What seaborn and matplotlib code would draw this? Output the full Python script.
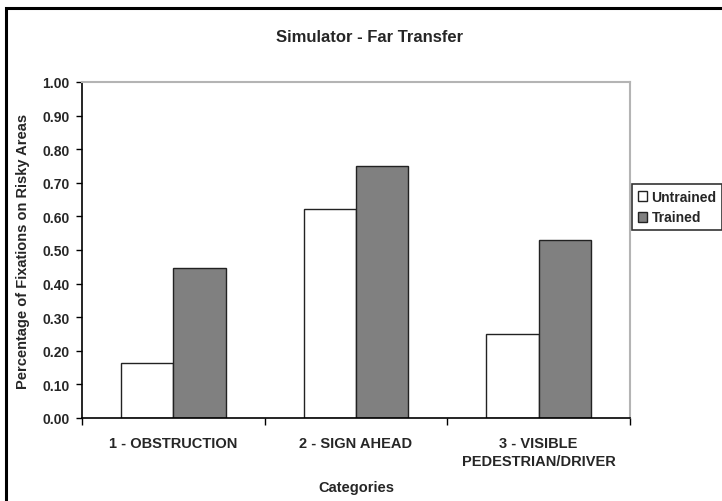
import matplotlib
matplotlib.use("Agg")
import matplotlib.pyplot as plt
from matplotlib.patches import Rectangle
from matplotlib.ticker import FixedLocator, MultipleLocator
import numpy as np
import pandas as pd
import seaborn as sns

categories = ["1 - OBSTRUCTION", "2 - SIGN AHEAD", "3 - VISIBLE\nPEDESTRIAN/DRIVER"]
groups = ["Untrained", "Trained"]
untrained = [0.165, 0.622, 0.250]
trained = [0.446, 0.750, 0.530]

df = pd.DataFrame({
    "Category": categories * 2,
    "Group": [groups[0]] * 3 + [groups[1]] * 3,
    "Value": untrained + trained,
})

sns.set_theme(style="white")
plt.rcParams["font.family"] = ["Liberation Sans", "DejaVu Sans"]
plt.rcParams["font.weight"] = "bold"

W, H = 722, 502
fig = plt.figure(figsize=(W / 100, H / 100), dpi=100)
fig.patch.set_facecolor("white")
ax = fig.add_axes([82 / W, 1 - 419 / H, (630 - 82) / W, (419 - 83) / H])

sns.barplot(
    data=df, x="Category", y="Value", hue="Group", hue_order=groups,
    order=categories, palette=["white", "#808080"], width=2 / 3.5,
    edgecolor="#222222", linewidth=1.0, saturation=1, gap=0, ax=ax,
)

ax.set_xlim(-0.5, 2.5)
ax.set_ylim(0, 1.0)
ax.yaxis.set_major_locator(MultipleLocator(0.1))
ax.yaxis.set_major_formatter(plt.FuncFormatter(lambda v, p: f"{v:.2f}"))
ax.tick_params(axis="y", which="major", direction="out", length=4, width=1,
               color="black", pad=5, labelsize=10, left=True)
for lbl in ax.get_yticklabels():
    lbl.set_fontweight("bold")

# category labels centred, separators as minor ticks at group boundaries
ax.xaxis.set_minor_locator(FixedLocator([-0.5, 0.5, 1.5, 2.5]))
ax.tick_params(axis="x", which="major", length=0, pad=13, labelsize=10.5)
ax.tick_params(axis="x", which="minor", direction="out", length=5, width=1,
               color="black", bottom=True)
for lbl in ax.get_xticklabels():
    lbl.set_fontweight("bold")
    lbl.set_linespacing(1.35)

ax.set_xlabel("Categories", fontsize=10.5, fontweight="bold", labelpad=9)
ax.set_ylabel("Percentage of Fixations on Risky Areas", fontsize=10.5,
              fontweight="bold", labelpad=9)

for side in ["left", "bottom"]:
    ax.spines[side].set_color("black")
    ax.spines[side].set_linewidth(1.2)
for side in ["top", "right"]:
    ax.spines[side].set_visible(True)
    ax.spines[side].set_color("#b4b4b4")
    ax.spines[side].set_linewidth(1.5)

fig.text(370 / W, 1 - 38 / H, "Simulator - Far Transfer", ha="center",
         va="center", fontsize=12, fontweight="bold")

leg = ax.legend(
    loc="upper left", bbox_to_anchor=(632 / W, 1 - 185 / H),
    bbox_transform=fig.transFigure, frameon=True, fancybox=False,
    edgecolor="black", fontsize=10, handlelength=0.7, handleheight=0.7,
    handletextpad=0.3, borderpad=0.4, labelspacing=0.5, borderaxespad=0,
    title=None,
)
leg.get_frame().set_linewidth(1.2)
for t in leg.get_texts():
    t.set_fontweight("bold")

# outer chart-area frame
fig.patches.append(Rectangle((6 / W, -0.2), 1.2, 1 - 8.5 / H + 0.2,
                             transform=fig.transFigure, fill=False,
                             edgecolor="black", linewidth=2.2))

fig.savefig("out.png", dpi=100)
